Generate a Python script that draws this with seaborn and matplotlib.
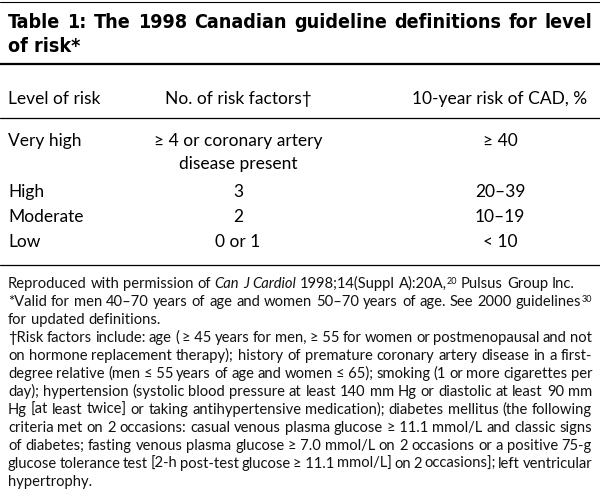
import matplotlib
matplotlib.use("Agg")
import matplotlib.pyplot as plt
from matplotlib import font_manager
import seaborn as sns

sns.set_theme(style="white")
plt.rcParams['font.family'] = ['Lato', 'DejaVu Sans']

# table content
title_lines = ["Table 1: The 1998 Canadian guideline definitions for level",
               "of risk*"]
headers = ["Level of risk", "No. of risk factors†", "10-year risk of CAD, %"]
levels = ["Very high", "High", "Moderate", "Low"]
n_factors = ["≥ 4 or coronary artery\ndisease present", "3", "2", "0 or 1"]
risk_cad = ["≥ 40", "20–39", "10–19", "< 10"]

# footnotes: _x_ = italic, ^x = superscript glued to previous word
footnote_lines = [
    "Reproduced with permission of _Can_ _J_ _Cardiol_ 1998;14(Suppl A):20A,^20 Pulsus Group Inc.",
    "*Valid for men 40–70 years of age and women 50–70 years of age. See 2000 guidelines^30",
    "for updated definitions.",
    "†Risk factors include: age ( ≥\u00a045 years for men, ≥\u00a055 for women or postmenopausal and not",
    "on hormone replacement therapy); history of premature coronary artery disease in a first-",
    "degree relative (men ≤\u00a055 years of age and women ≤\u00a065); smoking (1 or more cigarettes per",
    "day); hypertension (systolic blood pressure at least 140 mm Hg or diastolic at least 90 mm",
    "Hg [at least twice] or taking antihypertensive medication); diabetes mellitus (the following",
    "criteria met on 2 occasions: casual venous plasma glucose ≥\u00a011.1 mmol/L and classic signs",
    "of diabetes; fasting venous plasma glucose ≥\u00a07.0 mmol/L on 2 occasions or a positive 75-g",
    "glucose tolerance test [2-h post-test glucose ≥\u00a011.1 mmol/L] on 2 occasions]; left ventricular",
    "hypertrophy.",
]
justified = [False, True, False, True, True, True, True, True, True, True, True, False]

fig = plt.figure(figsize=(6.0, 4.99), dpi=100)
ax = fig.add_axes([0, 0, 1, 1])
ax.set_xlim(0, 600)
ax.set_ylim(499, 0)
ax.axis("off")
renderer = fig.canvas.get_renderer()

LEFT, RIGHT = 8, 592


def width_of(s, **kw):
    t = ax.text(0, 0, s, **kw)
    w = t.get_window_extent(renderer).width
    t.remove()
    return w


def draw_words(tokens, y, justify, space_kw):
    # tokens: list of (text, kwargs, glued, dy)
    groups = []
    for txt, kw, glued, dy in tokens:
        if glued and groups:
            groups[-1].append((txt, kw, dy))
        else:
            groups.append([(txt, kw, dy)])
    widths = [sum(width_of(t, **kw) for t, kw, _ in g) for g in groups]
    space = width_of("a a", **space_kw) - width_of("aa", **space_kw)
    if justify and len(groups) > 1:
        space = max((RIGHT - LEFT - sum(widths)) / (len(groups) - 1), 1.5)
    x = LEFT
    for g, w in zip(groups, widths):
        xx = x
        for t, kw, dy in g:
            ax.text(xx, y + dy, t, va="baseline", ha="left", **kw)
            xx += width_of(t, **kw)
        x += w + space


# rules
for yy, lw in [(1.5, 0.8), (64, 1.6), (118, 0.9), (265, 0.9)]:
    ax.axhline(yy, color="black", lw=lw)

# title: use a condensed bold face when one is installed
condensed = [f for f in font_manager.fontManager.ttflist
             if f.name == "DejaVu Sans" and f.stretch == "condensed" and f.weight in (700, "bold")]


def title_props(size):
    if condensed:
        return dict(color="black",
                    fontproperties=font_manager.FontProperties(fname=condensed[0].fname, size=size))
    return dict(fontsize=size, fontweight="bold", color="black", family=["Lato", "DejaVu Sans"])


title_kw = title_props(15)
nat = width_of(title_lines[0], **title_kw)
if nat > 576:
    title_kw = title_props(15 * 576 / nat)
draw_words([(w, title_kw, False, 0) for w in title_lines[0].split(" ")], 28, True, title_kw)
ax.text(LEFT, 52, title_lines[1], va="baseline", **title_kw)

# header + body
body_kw = dict(fontsize=12.5, color="black")
col_x = [LEFT, 238, 500]
ax.text(col_x[0], 104, headers[0], ha="left", va="baseline", **body_kw)
ax.text(col_x[1], 104, headers[1], ha="center", va="baseline", **body_kw)
ax.text(col_x[2], 104, headers[2], ha="center", va="baseline", **body_kw)

row_y = [146, 197, 222, 247]
for lev, nf, rk, yy in zip(levels, n_factors, risk_cad, row_y):
    ax.text(col_x[0], yy, lev, ha="left", va="baseline", **body_kw)
    for i, part in enumerate(nf.split("\n")):
        ax.text(col_x[1], yy + 23 * i, part, ha="center", va="baseline", **body_kw)
    ax.text(col_x[2], yy, rk, ha="center", va="baseline", **body_kw)

# footnotes
foot_kw = dict(fontsize=10.6, color="#111111")
ital_kw = dict(foot_kw, style="italic")
sup_kw = dict(foot_kw, fontsize=6.5)
for i, (line, just) in enumerate(zip(footnote_lines, justified)):
    tokens = []
    for word in line.split(" "):
        if "^" in word:
            base, sup = word.split("^")
            tokens.append((base, foot_kw, False, 0))
            tokens.append((sup, sup_kw, True, -4))
        elif word.startswith("_") and word.endswith("_"):
            tokens.append((word.strip("_"), ital_kw, False, 0))
        else:
            tokens.append((word, foot_kw, False, 0))
    draw_words(tokens, 288 + 18.0 * i, just, foot_kw)

fig.savefig("out.png", dpi=100, facecolor="white")
